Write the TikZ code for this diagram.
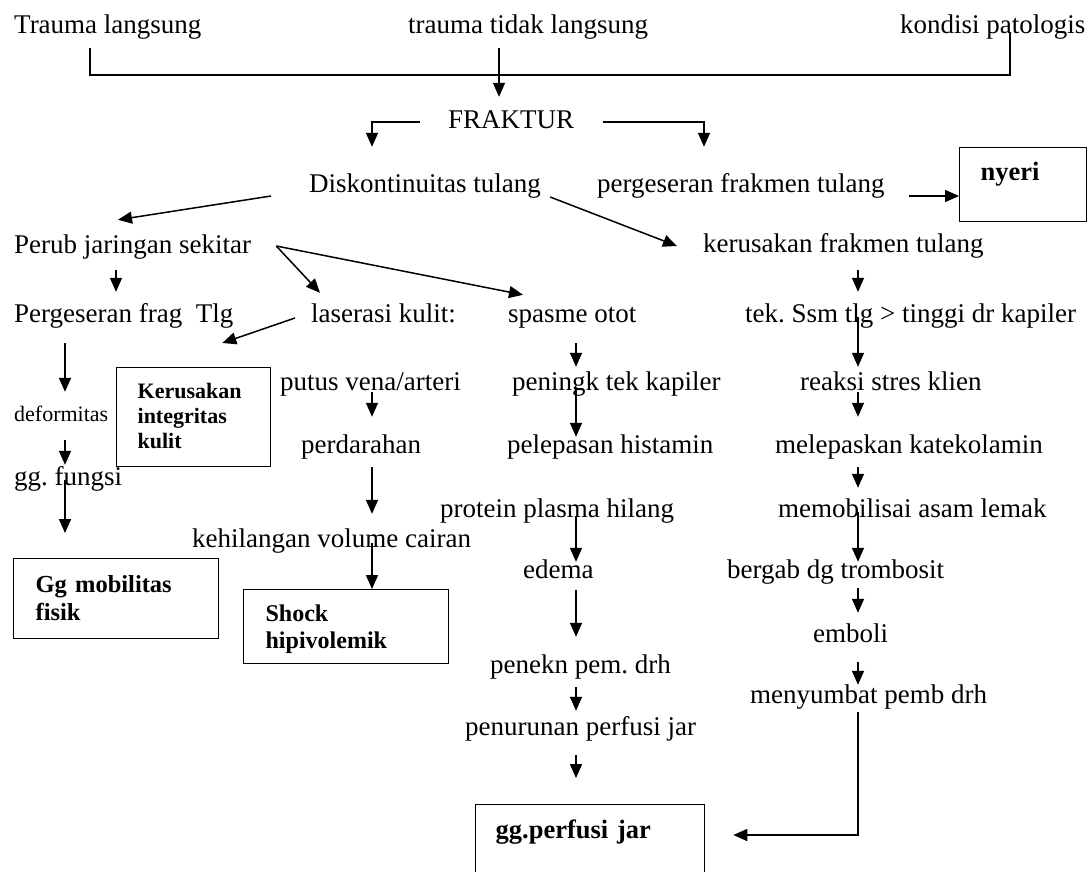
\documentclass[tikz,border=0pt]{standalone}
\usepackage{fontspec}
\setmainfont{Liberation Serif}
\usetikzlibrary{arrows.meta,calc}
\begin{document}
\begin{tikzpicture}[x=1pt,y=-1pt,
  txt/.style={anchor=base west, inner sep=0pt, text height=18pt, text depth=6pt, font=\fontsize{27}{30}\selectfont},
  smalltxt/.style={txt, font=\fontsize{22}{26}\selectfont},
  box/.style={draw, line width=1.3pt, anchor=north west, inner ysep=0pt, align=left},
  arr/.style={line width=1.5pt, -{Triangle[length=14pt,width=12pt]}},
  ln/.style={line width=1.5pt}]
\useasboundingbox (0,0) rectangle (1091,871);
\clip (0,0) rectangle (1091,871);
\fill[white] (0,0) rectangle (1091,871);

% column coordinates
\coordinate (cP) at (116,0);
\coordinate (cL) at (65,0);
\coordinate (cV) at (372,0);
\coordinate (cM) at (576,0);
\coordinate (cR) at (858,0);
\coordinate (cT) at (499,0);
\coordinate (bL) at (90,75);
\coordinate (bR) at (1010,75);
\coordinate (fl) at (372,0);
\coordinate (fr) at (704,0);
\coordinate (turn) at (858,835);

% text nodes
\node[txt] (t1) at (14,33) {Trauma langsung};
\node[txt] (t2) at (408,33) {trauma tidak langsung};
\node[txt] (t3) at (900,33) {kondisi patologis};
\node[txt] (frak) at (448,128) {FRAKTUR};
\node[txt] (disk) at (309,192) {Diskontinuitas tulang};
\node[txt] (pfrak) at (597,192) {pergeseran frakmen tulang};
\node[box, inner xsep=21pt, text width=85pt, text height=33pt, text depth=41pt,
      font=\bfseries\fontsize{26.5}{30}\selectfont] (nyeri) at (959,147) {nyeri};
\node[txt] (perub) at (14,253) {Perub jaringan sekitar};
\node[txt] (kfrak) at (703,252) {kerusakan frakmen tulang};
\node[txt] (pfrag) at (14,322) {Pergeseran frag~ Tlg};
\node[txt] (laser) at (311,322) {laserasi kulit:};
\node[txt] (spasme) at (508,322) {spasme otot};
\node[txt] (tek) at (745,322) {tek.\ Ssm tlg > tinggi dr kapiler};
\node[box, inner xsep=21pt, text width=112pt, text height=31pt, text depth=68pt,
      font=\bfseries\fontsize{22}{25}\selectfont] (kbox) at (116,367) {Kerusakan\\integritas\\kulit};
\node[txt] (putus) at (280,390) {putus vena/arteri};
\node[txt] (pening) at (512,390) {peningk tek kapiler};
\node[txt] (reaksi) at (800,390) {reaksi stres klien};
\node[smalltxt] (deform) at (14,421) {deformitas};
\node[txt] (perdar) at (301,453) {perdarahan};
\node[txt] (pelep) at (507,453) {pelepasan histamin};
\node[txt] (melep) at (775,453) {melepaskan katekolamin};
\node[txt] (fungsi) at (14,485) {gg.\ fungsi};
\node[txt] (protein) at (440,517) {protein plasma hilang};
\node[txt] (mobil) at (778,517) {memobilisai asam lemak};
\node[txt] (kehil) at (192,547) {kehilangan volume cairan};
\node[txt] (edema) at (523,578) {edema};
\node[txt] (bergab) at (727,578) {bergab dg trombosit};
\node[box, inner xsep=22pt, text width=161pt, text height=34pt, text depth=46pt,
      font=\bfseries\fontsize{24.5}{28}\selectfont] (gbox) at (13,558) {Gg mobilitas\\fisik};
\node[box, inner xsep=22pt, text width=161pt, text height=32pt, text depth=42pt,
      font=\bfseries\fontsize{24}{27}\selectfont] (sbox) at (243,589) {Shock\\hipivolemik};
\node[txt] (emboli) at (813,642) {emboli};
\node[txt] (penekn) at (490,673) {penekn pem.\ drh};
\node[txt] (menyum) at (750,703) {menyumbat pemb drh};
\node[txt] (penur) at (465,735) {penurunan perfusi jar};
\node[box, inner xsep=20pt, text width=189pt, text height=34pt, text depth=60pt,
      font=\bfseries\fontsize{26.5}{30}\selectfont] (pbox) at (475,804) {gg.perfusi jar};

% top bracket
\draw[ln, shorten <=9pt, shorten >=-7pt] (t1.south -| bL) -- (bL) -- (bR) -- (t3.south -| bR);
\draw[arr, shorten <=9pt, shorten >=13pt] (t2.south -| cT) -- (frak.north -| cT);

% FRAKTUR branches
\draw[arr, shorten >=27pt] ([xshift=-28pt]frak.west) -| (disk.north -| fl);
\draw[arr, shorten >=27pt] ([xshift=29pt]frak.east) -| (pfrak.north -| fr);

% nyeri
\coordinate (ny1) at ([xshift=24pt,yshift=-10pt]pfrak.east);
\draw[arr] (ny1) -- (ny1 -| nyeri.west);

% diagonals
\draw[arr] ([xshift=-38pt,yshift=-10pt]disk.west) -- ([xshift=104pt,yshift=15pt]perub.north west);
\draw[arr] ([xshift=9pt,yshift=-11pt]disk.east) -- ([xshift=-26pt]kfrak.west);
\coordinate (pj) at ([xshift=25pt,yshift=1pt]perub.east);
\draw[arr] (pj) -- ([xshift=9pt,yshift=11pt]laser.north west);
\draw[arr] (pj) -- ([xshift=15pt,yshift=9pt]spasme.north west);
\draw[arr] ([xshift=-16pt,yshift=-2pt]laser.west) -- ([xshift=-49pt,yshift=24pt]kbox.north east);

% left columns
\draw[arr, shorten <=11pt, shorten >=12pt] (perub.south -| cP) -- (pfrag.north -| cP);
\draw[arr, shorten <=15pt, shorten >=11pt] (pfrag.south -| cL) -- (deform.north -| cL);
\draw[arr, shorten <=13pt, shorten >=2pt] (deform.south -| cL) -- (fungsi.north -| cL);
\draw[arr, shorten <=-11pt, shorten >=25pt] (fungsi.south -| cL) -- (gbox.north -| cL);

% vena column
\draw[arr, shorten <=-4pt, shorten >=18pt] (putus.south -| cV) -- (perdar.north -| cV);
\draw[arr, shorten <=8pt, shorten >=15pt] (perdar.south -| cV) -- (kehil.north -| cV);
\draw[arr, shorten <=-10pt] (kehil.south -| cV) -- (sbox.north -| cV);

% middle column
\draw[arr, shorten <=15pt, shorten >=5pt] (spasme.south -| cM) -- (pening.north -| cM);
\draw[arr, shorten <=-9pt, shorten >=-2pt] (pening.south -| cM) -- (pelep.north -| cM);
\draw[arr, shorten <=-6pt, shorten >=-2pt] (protein.south -| cM) -- (edema.north -| cM);
\draw[arr, shorten <=6pt, shorten >=18pt] (edema.south -| cM) -- (penekn.north -| cM);
\draw[arr, shorten <=8pt, shorten >=6pt] (penekn.south -| cM) -- (penur.north -| cM);
\draw[arr, shorten <=14pt, shorten >=26pt] (penur.south -| cM) -- (pbox.north -| cM);

% right column
\draw[arr, shorten <=12pt, shorten >=12pt] (kfrak.south -| cR) -- (tek.north -| cR);
\draw[arr, shorten <=-11pt, shorten >=5pt] (tek.south -| cR) -- (reaksi.north -| cR);
\draw[arr, shorten <=-4pt, shorten >=18pt] (reaksi.south -| cR) -- (melep.north -| cR);
\draw[arr, shorten <=8pt, shorten >=11pt] (melep.south -| cR) -- (mobil.north -| cR);
\draw[arr, shorten <=-11pt, shorten >=-2pt] (mobil.south -| cR) -- (bergab.north -| cR);
\draw[arr, shorten <=4pt, shorten >=11pt] (bergab.south -| cR) -- (emboli.north -| cR);
\draw[arr, shorten <=14pt] (emboli.south -| cR) -- (menyum.north -| cR);
\draw[arr, shorten <=3pt, shorten >=28pt] (menyum.south -| turn) -- (turn) -- (turn -| pbox.east);
\end{tikzpicture}
\end{document}
